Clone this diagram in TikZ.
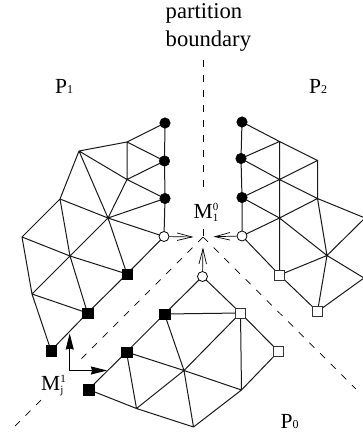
\documentclass[tikz,border=0pt]{standalone}
\usepackage{fontspec}
\setmainfont{Liberation Serif}
\usetikzlibrary{arrows.meta,backgrounds}
\newcommand{\PLabel}[1]{P{\fontsize{12}{12}\selectfont #1}}
\newcommand{\MLabel}[2]{M\rlap{\raisebox{8pt}{\fontsize{11}{11}\selectfont #1}}\raisebox{-3pt}{\fontsize{11}{11}\selectfont #2}}
\tikzset{
  x=1pt,y=-1pt,
  vtx/.style={inner sep=0pt,minimum size=0pt,outer sep=0pt},
  fcirc/.style={circle,fill=black,draw=black,line width=.5pt,inner sep=0pt,minimum size=10.5pt},
  ocirc/.style={circle,fill=white,draw=black,line width=.8pt,inner sep=0pt,minimum size=10pt},
  fsq/.style={rectangle,fill=black,draw=black,line width=.5pt,inner sep=0pt,minimum size=10.5pt},
  osq/.style={rectangle,fill=white,draw=black!80,line width=.9pt,inner sep=0pt,minimum size=10pt},
  mesh/.style={line width=1pt,black!90},
  bound/.style={line width=.7pt,dash pattern=on 7pt off 8pt},
  openarrow/.style={line width=.7pt,-{Straight Barb[length=15pt,width=7.5pt,line width=.7pt]}},
  solidarrow/.style={line width=.8pt,-{Stealth[length=16pt,width=8pt,inset=1pt]}},
  lab/.style={inner sep=0pt,anchor=base west,font=\fontsize{21.5}{27}\selectfont}
}
\begin{document}
\begin{tikzpicture}
\clip (0,0) rectangle (363,437);
% P1
\node[fcirc] (a1) at (165,123) {};
\node[fcirc] (a2) at (164.5,161) {};
\node[fcirc] (a3) at (165,198.5) {};
\node[ocirc] (a4) at (164,236.5) {};
\node[vtx] (b1) at (127,142) {};
\node[vtx] (b2) at (127,179.5) {};
\node[vtx] (c) at (79,151) {};
\node[vtx] (d) at (60,199) {};
\node[vtx] (e) at (108,218) {};
\node[vtx] (f) at (22,237) {};
\node[vtx] (g) at (70,256) {};
\node[vtx] (h) at (32,294) {};
\node[fsq] (s1) at (127,274) {};
\node[fsq] (s2) at (87.5,313) {};
\node[fsq] (s3) at (51,350.5) {};
% P2
\node[fcirc] (t1) at (242,122) {};
\node[fcirc] (t2) at (241,158.5) {};
\node[fcirc] (t3) at (242,197.5) {};
\node[ocirc] (t4) at (242,236) {};
\node[vtx] (u1) at (279.5,141.5) {};
\node[vtx] (u2) at (279.5,179.5) {};
\node[vtx] (u3) at (279.5,218) {};
\node[vtx] (v1) at (317.5,160.5) {};
\node[vtx] (v2) at (317.5,198.5) {};
\node[vtx] (w) at (327,255.5) {};
\node[vtx] (r1) at (365,218) {};
\node[vtx] (r2) at (364,278) {};
\node[osq] (q1) at (279.5,275) {};
\node[osq] (q2) at (317.5,311.5) {};
% P0
\node[ocirc] (z) at (202.5,276.5) {};
\node[fsq] (k1) at (164.5,314) {};
\node[fsq] (k2) at (126.5,352) {};
\node[fsq] (k3) at (88.5,389.5) {};
\node[osq] (y1) at (240.5,313) {};
\node[osq] (y2) at (278.5,351.5) {};
\node[vtx] (n1) at (184,370.5) {};
\node[vtx] (n2) at (136.5,408.5) {};
\node[vtx] (n3) at (193.5,427) {};
\node[vtx] (n4) at (241.5,390) {};
% boundary ends
\coordinate (ctr) at (203,237);
\coordinate (bt) at (203,60);
\coordinate (bv) at (203,189);
\coordinate (bvb) at (203,229);
\coordinate (bl1) at (79,361);
\coordinate (bl2) at (41,400);
\coordinate (bl3) at (15,426);
\coordinate (br) at (356,389);
\coordinate (mjc) at (69.7,370.5);
\coordinate (mjt) at (69.7,333.5);
\coordinate (mjr) at (107,370.5);
\coordinate (al) at (193.5,237);
\coordinate (ar) at (213.5,236.7);
\coordinate (au) at (203,247.5);
\begin{scope}[on background layer]
\draw[mesh] (a1.center)--(a2.center)--(a3.center)--(a4.center)
 (a1.center)--(b1.center)--(a2.center)--(b2.center)--(a3.center)
 (b1.center)--(b2.center) (c.center)--(b1.center) (c.center)--(b2.center)--(e.center)
 (c.center)--(e.center) (c.center)--(d.center) (e.center)--(a3.center) (e.center)--(a4.center)
 (e.center)--(s1.center) (d.center)--(e.center) (d.center)--(f.center) (d.center)--(g.center)
 (e.center)--(g.center) (f.center)--(g.center) (g.center)--(s1.center) (f.center)--(h.center)
 (g.center)--(h.center) (g.center)--(s2.center) (h.center)--(s2.center) (h.center)--(s3.center)
 (a4.center)--(s1.center)--(s2.center)--(s3.center);
\draw[mesh] (t1.center)--(t2.center)--(t3.center)--(t4.center)
 (t1.center)--(u1.center)--(v1.center) (u1.center)--(t2.center)--(u2.center)--(v2.center)
 (u1.center)--(u2.center)--(u3.center)--(q1.center) (u2.center)--(t3.center)--(u3.center)
 (u3.center)--(t4.center) (u2.center)--(v1.center)--(v2.center) (u3.center)--(v2.center)
 (u3.center)--(w.center) (v2.center)--(w.center) (w.center)--(q1.center) (w.center)--(q2.center)
 (w.center)--(r1.center) (w.center)--(r2.center) (v2.center)--(r1.center)
 (t4.center)--(q1.center)--(q2.center)--(r2.center);
\draw[mesh] (z.center)--(k1.center) (z.center)--(y1.center) (k1.center)--(y1.center)
 (k1.center)--(k2.center)--(k3.center) (k1.center)--(n1.center) (k2.center)--(n1.center)
 (k2.center)--(n2.center) (k3.center)--(n2.center) (n2.center)--(n1.center) (n2.center)--(n3.center)
 (n1.center)--(n3.center) (n1.center)--(y1.center) (n1.center)--(n4.center) (n3.center)--(n4.center)
 (n4.center)--(y1.center) (y1.center)--(y2.center) (y2.center)--(n4.center);
\end{scope}
\draw[bound] (bt)--(bv);
\draw[bound] (bvb)--(ctr);
\draw[bound] (ctr)--(bl1);
\draw[bound] (bl2)--(bl3);
\draw[bound] (ctr)--(br);
\draw[openarrow] (a4)--(al);
\draw[openarrow] (t4)--(ar);
\draw[openarrow] (z)--(au);
\draw[solidarrow] (mjc)--(mjt);
\draw[solidarrow] (mjc)--(mjr);
\node[lab,anchor=west,align=left,font=\fontsize{22.6}{27.5}\selectfont] (pb) at (165.5,27.5) {partition\\boundary};
\node[lab] (p1) at (55,93) {\PLabel{1}};
\node[lab] (p2) at (309,93) {\PLabel{2}};
\node[lab] (p0) at (280.5,428) {\PLabel{0}};
\node[lab] (m0) at (193.5,218) {\MLabel{0}{1}};
\node[lab] (mj) at (41,390) {\MLabel{1}{j}};
\end{tikzpicture}
\end{document}
